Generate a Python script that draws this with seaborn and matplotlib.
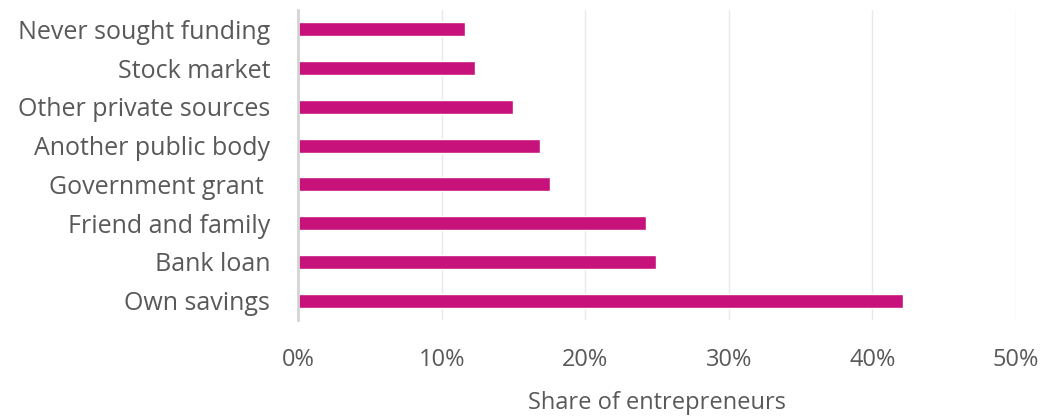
import matplotlib
matplotlib.use("Agg")
import matplotlib.pyplot as plt
import seaborn as sns
import pandas as pd
from matplotlib.ticker import FuncFormatter

categories = ["Never sought funding", "Stock market", "Other private sources",
              "Another public body", "Government grant ", "Friend and family",
              "Bank loan", "Own savings"]
shares = [11.6, 12.3, 15.0, 16.85, 17.55, 24.2, 24.9, 42.1]
x_ticks = [0, 10, 20, 30, 40, 50]

sns.set_theme(style="white")
plt.rcParams['font.family'] = ['Open Sans', 'DejaVu Sans']

df = pd.DataFrame({"category": categories, "share": shares})

fig = plt.figure(figsize=(10.43, 4.17), dpi=100)
ax = fig.add_axes([298/1043, 1 - 320/417, (1016 - 298)/1043, 310/417])

sns.barplot(data=df, x="share", y="category", orient="h", color="#C6127A",
            saturation=1, width=0.36, ax=ax)

ax.set_xlim(0, 50)
ax.set_ylim(7.5, -0.5)
ax.set_xticks(x_ticks)
ax.xaxis.set_major_formatter(FuncFormatter(lambda v, p: f"{v:.0f}%"))
ax.grid(axis="x", color="#e9e9e9", linewidth=1)
ax.set_axisbelow(True)
for s in ["top", "right", "bottom"]:
    ax.spines[s].set_visible(False)
ax.spines["left"].set_color("#d4d4d4")
ax.spines["left"].set_linewidth(2)
ax.tick_params(axis="x", length=0, pad=20, labelsize=17, labelcolor="#595959")
ax.tick_params(axis="y", length=0, pad=20, labelsize=18, labelcolor="#595959")
ax.set_ylabel("")
ax.set_xlabel("Share of entrepreneurs", fontsize=17, color="#595959", labelpad=14)

fig.savefig("out.png", dpi=100)
